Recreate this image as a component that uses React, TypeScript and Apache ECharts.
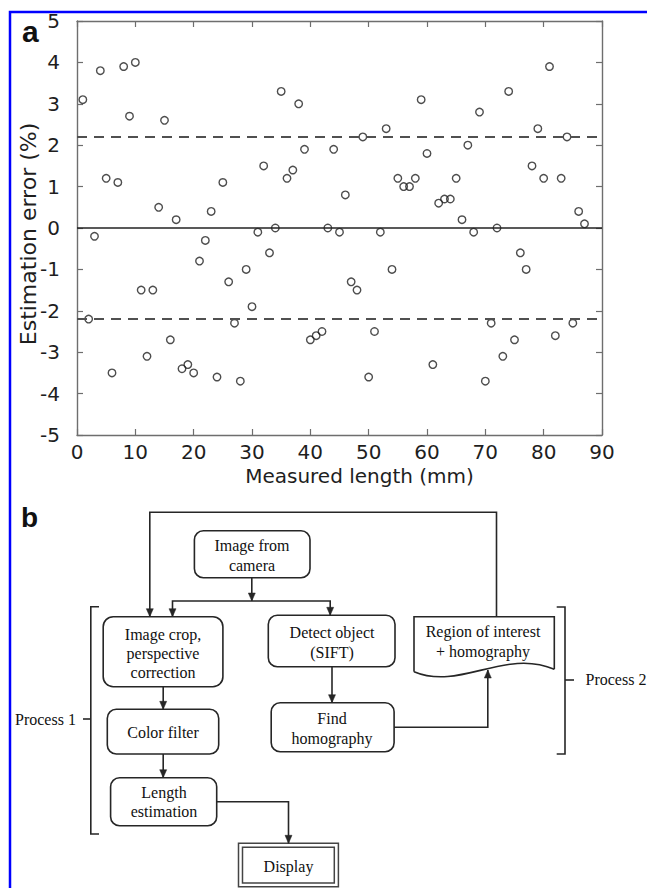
import React, { useEffect, useRef } from "react";
import * as echarts from "echarts";

// Panel a data: measured length (mm) vs estimation error (%)
const lengths = [
  1, 2, 3, 4, 5, 6, 7, 8, 9, 10, 11, 12, 13, 14, 15, 16, 17, 18, 19, 20,
  21, 22, 23, 24, 25, 26, 27, 28, 29, 30, 31, 32, 33, 34, 35, 36, 37, 38, 39, 40,
  41, 42, 43, 44, 45, 46, 47, 48, 49, 50, 51, 52, 53, 54, 55, 56, 57, 58, 59, 60,
  61, 62, 63, 64, 65, 66, 67, 68, 69, 70, 71, 72, 73, 74, 75, 76, 77, 78, 79, 80,
  81, 82, 83, 84, 85, 86, 87,
];
const errors = [
  3.1, -2.2, -0.2, 3.8, 1.2, -3.5, 1.1, 3.9, 2.7, 4.0, -1.5, -3.1, -1.5, 0.5, 2.6, -2.7, 0.2, -3.4, -3.3, -3.5,
  -0.8, -0.3, 0.4, -3.6, 1.1, -1.3, -2.3, -3.7, -1.0, -1.9, -0.1, 1.5, -0.6, 0.0, 3.3, 1.2, 1.4, 3.0, 1.9, -2.7,
  -2.6, -2.5, 0.0, 1.9, -0.1, 0.8, -1.3, -1.5, 2.2, -3.6, -2.5, -0.1, 2.4, -1.0, 1.2, 1.0, 1.0, 1.2, 3.1, 1.8,
  -3.3, 0.6, 0.7, 0.7, 1.2, 0.2, 2.0, -0.1, 2.8, -3.7, -2.3, 0.0, -3.1, 3.3, -2.7, -0.6, -1.0, 1.5, 2.4, 1.2,
  3.9, -2.6, 1.2, 2.2, -2.3, 0.4, 0.1,
];
const limitValues = [2.2, -2.2];
const zeroValue = 0;
const xLabel = "Measured length (mm)";
const yLabel = "Estimation error (%)";

// Panel b texts
const camText = ["Image from", "camera"];
const cropText = ["Image crop,", "perspective", "correction"];
const detectText = ["Detect object", "(SIFT)"];
const roiText = ["Region of interest", "+ homography"];
const findText = ["Find", "homography"];
const colorText = ["Color filter"];
const lengthText = ["Length", "estimation"];
const displayText = ["Display"];
const process1 = "Process 1";
const process2 = "Process 2";

const INK = "#262626";
const SERIF = "16px 'Liberation Serif', 'Times New Roman', serif";

function txt(x: number, y: number, s: string, font = SERIF, align = "center") {
  return {
    type: "text",
    x,
    y,
    style: {
      text: s,
      font,
      fill: "#111",
      align,
      verticalAlign: "middle",
      textAlign: align,
      textVerticalAlign: "middle",
    },
  };
}

function lines(x: number, ys: number[], arr: string[]) {
  return arr.map((s, i) => txt(x, ys[i], s));
}

function rbox(x1: number, y1: number, x2: number, y2: number, r = 9) {
  return {
    type: "rect",
    shape: { x: x1, y: y1, width: x2 - x1, height: y2 - y1, r },
    style: { fill: "none", stroke: INK, lineWidth: 1.6 },
  };
}

function pl(points: number[][]) {
  return {
    type: "polyline",
    shape: { points },
    style: { fill: "none", stroke: INK, lineWidth: 1.6 },
  };
}

function arrowDown(x: number, y: number) {
  return {
    type: "polygon",
    shape: { points: [[x - 3.5, y - 8], [x + 3.5, y - 8], [x, y]] },
    style: { fill: INK, stroke: INK, lineWidth: 0.5 },
  };
}

function arrowUp(x: number, y: number) {
  return {
    type: "polygon",
    shape: { points: [[x - 3.5, y + 8], [x + 3.5, y + 8], [x, y]] },
    style: { fill: INK, stroke: INK, lineWidth: 0.5 },
  };
}

export default function App() {
  const ref = useRef<HTMLDivElement>(null);

  useEffect(() => {
    if (!ref.current) return;
    const chart = echarts.init(ref.current, null, { renderer: "svg" });

    const axisColor = "#6e6e6e";
    const axisFont = "'DejaVu Sans', 'Liberation Sans', Arial, sans-serif";
    const pts = lengths.map((x, i) => [x, errors[i]]);

    const graphic: any[] = [
      // blue frame
      {
        type: "rect",
        shape: { x: 10, y: 12, width: 700, height: 900 },
        style: { fill: "none", stroke: "#0000ff", lineWidth: 2.5 },
        z: 10,
      },
      txt(22, 31, "a", "bold 30px 'Liberation Sans', Arial, sans-serif", "left"),
      txt(21, 517, "b", "bold 28px 'Liberation Sans', Arial, sans-serif", "left"),

      // boxes
      rbox(194.4, 530.7, 310, 577.7),
      ...lines(252, [545.7, 565], camText),
      rbox(103.2, 616.7, 222.9, 686.7, 10),
      ...lines(163, [634, 653.3, 672.3], cropText),
      rbox(268.3, 615.3, 395, 666.7),
      ...lines(332, [632, 652], detectText),
      rbox(271.2, 702.7, 394.1, 751.7),
      ...lines(332, [718.3, 738.3], findText),
      rbox(107.3, 709.3, 218.7, 754),
      ...lines(163, [732.3], colorText),
      rbox(110.6, 777.7, 216.7, 825.7),
      ...lines(164, [792.3, 811.7], lengthText),
      // display double box
      {
        type: "rect",
        shape: { x: 238.5, y: 843.3, width: 99.9, height: 43.4 },
        style: { fill: "none", stroke: "#444", lineWidth: 1.5 },
      },
      {
        type: "rect",
        shape: { x: 242.5, y: 847.3, width: 91.8, height: 35.8 },
        style: { fill: "none", stroke: "#444", lineWidth: 1.5 },
      },
      ...lines(288.5, [866.5], displayText),

      // document shape
      pl([[414, 671.7], [414, 616.7], [554.3, 616.7], [554.3, 669.3]]),
      {
        type: "bezierCurve",
        shape: { x1: 414, y1: 671.7, cpx1: 460, cpy1: 691, cpx2: 505, cpy2: 648, x2: 554.3, y2: 669.3 },
        style: { fill: "none", stroke: INK, lineWidth: 1.6 },
      },
      ...lines(483, [631.7, 651.7], roiText),

      // connectors
      pl([[496.5, 616.7], [496.5, 512.3], [149.8, 512.3], [149.8, 616.7]]),
      arrowDown(149.8, 616.7),
      pl([[251.8, 577.7], [251.8, 601]]),
      arrowDown(251.8, 601),
      pl([[172.5, 616.7], [172.5, 601], [330.2, 601], [330.2, 615.3]]),
      arrowDown(172.5, 616.7),
      arrowDown(330.2, 615.3),
      pl([[163.2, 686.7], [163.2, 709.3]]),
      arrowDown(163.2, 709.3),
      pl([[163.2, 754], [163.2, 777.7]]),
      arrowDown(163.2, 777.7),
      pl([[332, 666.7], [332, 702.7]]),
      arrowDown(332, 702.7),
      pl([[394.1, 727.3], [487.8, 727.3], [487.8, 670]]),
      arrowUp(487.8, 670),
      pl([[216.7, 801.7], [288.5, 801.7], [288.5, 843.3]]),
      arrowDown(288.5, 843.3),

      // brackets
      pl([[99, 606.7], [90.8, 606.7], [90.8, 834], [99, 834]]),
      pl([[83, 719], [90.8, 719]]),
      txt(15, 719, process1, SERIF, "left"),
      pl([[556.7, 607], [565, 607], [565, 754], [556.7, 754]]),
      pl([[565, 680], [574, 680]]),
      txt(585.5, 679, process2, SERIF, "left"),
    ];

    const dashed = { type: [10, 7], color: "#505050", width: 1.9 };

    chart.setOption({
      animation: false,
      backgroundColor: "#fff",
      grid: { left: 77, top: 21, width: 525, height: 414, containLabel: false },
      xAxis: [
        {
          type: "value",
          position: "bottom",
          min: 0,
          max: 90,
          interval: 10,
          name: xLabel,
          nameLocation: "middle",
          nameGap: 31,
          nameMoveOverlap: false,
          nameTextStyle: {
            fontFamily: axisFont,
            fontSize: 20,
            color: "#1e1e1e",
            padding: [0, 0, 0, 40],
          },
          axisLine: { show: true, onZero: false, lineStyle: { color: axisColor, width: 1.4 } },
          axisTick: { show: true, inside: true, length: 6, lineStyle: { color: axisColor, width: 1.2 } },
          axisLabel: { fontFamily: axisFont, fontSize: 20, color: "#1e1e1e", margin: 7 },
          splitLine: { show: false },
        },
        {
          type: "value",
          position: "top",
          min: 0,
          max: 90,
          interval: 10,
          axisLine: { show: true, onZero: false, lineStyle: { color: axisColor, width: 1.4 } },
          axisTick: { show: true, inside: true, length: 6, lineStyle: { color: axisColor, width: 1.2 } },
          axisLabel: { show: false },
          splitLine: { show: false },
        },
      ],
      yAxis: [
        {
          type: "value",
          position: "left",
          min: -5,
          max: 5,
          interval: 1,
          name: yLabel,
          nameLocation: "middle",
          nameGap: 38,
          nameMoveOverlap: false,
          nameTextStyle: { fontFamily: axisFont, fontSize: 22, color: "#1e1e1e", padding: [0, 12, 0, 0] },
          axisLine: { show: true, onZero: false, lineStyle: { color: axisColor, width: 1.4 } },
          axisTick: { show: true, inside: true, length: 6, lineStyle: { color: axisColor, width: 1.2 } },
          axisLabel: { fontFamily: axisFont, fontSize: 20, color: "#1e1e1e", margin: 17 },
          splitLine: { show: false },
        },
        {
          type: "value",
          position: "right",
          min: -5,
          max: 5,
          interval: 1,
          axisLine: { show: true, onZero: false, lineStyle: { color: axisColor, width: 1.4 } },
          axisTick: { show: true, inside: true, length: 6, lineStyle: { color: axisColor, width: 1.2 } },
          axisLabel: { show: false },
          splitLine: { show: false },
        },
      ],
      series: [
        {
          type: "scatter",
          xAxisIndex: 0,
          yAxisIndex: 0,
          data: pts,
          symbol: "circle",
          symbolSize: 7.5,
          itemStyle: { color: "rgba(0,0,0,0)", borderColor: "#202020", borderWidth: 1.4 },
          markLine: {
            silent: true,
            symbol: ["none", "none"],
            label: { show: false },
            data: [
              { yAxis: zeroValue, lineStyle: { type: "solid", color: "#222", width: 1.6 } },
              ...limitValues.map((v) => ({ yAxis: v, lineStyle: dashed })),
            ],
          },
          z: 3,
        },
      ],
      graphic,
    });

    return () => chart.dispose();
  }, []);

  return (
    <div
      ref={ref}
      style={{ position: "fixed", left: 0, top: 0, width: 647, height: 888, background: "#fff" }}
    />
  );
}
